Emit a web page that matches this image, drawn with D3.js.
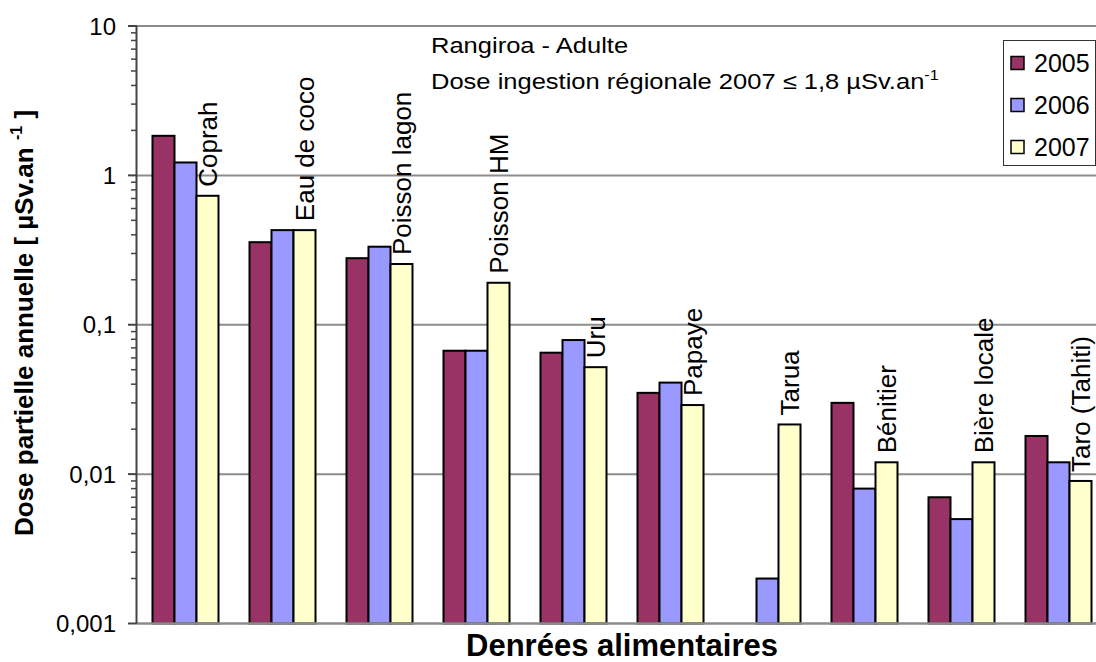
<!DOCTYPE html>
<html>
<head>
<meta charset="utf-8">
<script src="https://cdn.jsdelivr.net/npm/d3@7"></script>
<style>
  html, body { margin: 0; padding: 0; background: #fff; }
  svg { display: block; font-family: "Liberation Sans", Arial, sans-serif; }
</style>
</head>
<body>
<svg id="chart" width="1096" height="662"></svg>
<script>
// Food items (x categories)
const categories = ["Coprah", "Eau de coco", "Poisson lagon", "Poisson HM", "Uru",
                    "Papaye", "Tarua", "Bénitier", "Bière locale", "Taro (Tahiti)"];
const years = ["2005", "2006", "2007"];

// Partial annual dose, µSv per year (null = no measurement)
const dose2005 = [1.84, 0.357, 0.279, 0.067, 0.065, 0.035, null, 0.030, 0.007, 0.018];
const dose2006 = [1.22, 0.43, 0.333, 0.067, 0.079, 0.041, 0.002, 0.008, 0.005, 0.012];
const dose2007 = [0.73, 0.43, 0.255, 0.191, 0.052, 0.029, 0.0215, 0.012, 0.012, 0.009];

const seriesColors = ["#993366", "#9999FF", "#FFFFCC"];

const tickValues = [0.001, 0.01, 0.1, 1, 10];
const tickLabels = ["0,001", "0,01", "0,1", "1", "10"];

const series = [dose2005, dose2006, dose2007];

const svg = d3.select("#chart");
const plotLeft = 137, plotRight = 1107, plotTop = 26, plotBottom = 623.5;

const x = d3.scaleBand()
  .domain(categories)
  .range([plotLeft, plotRight])
  .paddingInner(31 / 97)
  .paddingOuter(31 / 97 / 2);

const xs = d3.scaleBand().domain(years).range([0, x.bandwidth()]);

const y = d3.scaleLog().domain([0.001, 10]).range([plotBottom, plotTop]);

// Horizontal gridlines at each decade
svg.append("g")
  .selectAll("line")
  .data(tickValues.slice(1))
  .join("line")
  .attr("x1", plotLeft).attr("x2", plotRight)
  .attr("y1", d => y(d)).attr("y2", d => y(d))
  .attr("stroke", "#8c8c8c")
  .attr("stroke-width", 2);

// Bars
const groups = svg.append("g")
  .selectAll("g")
  .data(categories)
  .join("g")
  .attr("transform", d => `translate(${x(d)},0)`);

groups.selectAll("rect")
  .data((c, i) => years.map((yr, k) => ({ yr, k, v: series[k][i] })).filter(d => d.v != null))
  .join("rect")
  .attr("x", d => xs(d.yr))
  .attr("width", xs.bandwidth())
  .attr("y", d => y(d.v))
  .attr("height", d => plotBottom - y(d.v))
  .attr("fill", d => seriesColors[d.k])
  .attr("stroke", "#000")
  .attr("stroke-width", 2);

// Category labels above the 2007 bars
svg.append("g")
  .selectAll("text")
  .data(categories)
  .join("text")
  .attr("transform", (c, i) => {
    const cx = x(c) + xs("2007") + xs.bandwidth() / 2 + 9.5;
    const cy = y(dose2007[i]) - 9;
    return `translate(${cx},${cy}) rotate(-90)`;
  })
  .attr("font-size", 26)
  .attr("fill", "#000")
  .text(d => d);

// X axis baseline
svg.append("line")
  .attr("x1", plotLeft).attr("x2", plotRight)
  .attr("y1", plotBottom).attr("y2", plotBottom)
  .attr("stroke", "#8c8c8c")
  .attr("stroke-width", 2.5);

// Y axis with major and minor ticks
const yAxis = svg.append("g");
yAxis.append("line")
  .attr("x1", plotLeft - 0.5).attr("x2", plotLeft - 0.5)
  .attr("y1", plotTop).attr("y2", plotBottom)
  .attr("stroke", "#444").attr("stroke-width", 2);

const minorTicks = y.ticks().filter(t => !tickValues.some(v => Math.abs(v - t) / v < 1e-9));
yAxis.selectAll("line.minor")
  .data(minorTicks)
  .join("line")
  .attr("class", "minor")
  .attr("x1", plotLeft - 6).attr("x2", plotLeft)
  .attr("y1", d => y(d)).attr("y2", d => y(d))
  .attr("stroke", "#444").attr("stroke-width", 1.5);

yAxis.selectAll("line.major")
  .data(tickValues)
  .join("line")
  .attr("class", "major")
  .attr("x1", plotLeft - 9).attr("x2", plotLeft)
  .attr("y1", d => y(d)).attr("y2", d => y(d))
  .attr("stroke", "#444").attr("stroke-width", 2);

yAxis.selectAll("text")
  .data(tickValues)
  .join("text")
  .attr("x", 116)
  .attr("y", d => y(d) + 8.5)
  .attr("text-anchor", "end")
  .attr("font-size", 24)
  .attr("fill", "#000")
  .text((d, i) => tickLabels[i]);

// Axis titles
svg.append("text")
  .attr("x", (plotLeft + plotRight) / 2)
  .attr("y", 656)
  .attr("text-anchor", "middle")
  .attr("font-size", 31)
  .attr("font-weight", "bold")
  .text("Denrées alimentaires");

const yTitle = svg.append("text")
  .attr("transform", "translate(33,323) rotate(-90)")
  .attr("text-anchor", "middle")
  .attr("font-size", 26)
  .attr("font-weight", "bold");
yTitle.append("tspan").text("Dose partielle annuelle [ µSv.an ");
yTitle.append("tspan").attr("font-size", 16).attr("dy", -11).text("-1");
yTitle.append("tspan").attr("dy", 11).text(" ]");

// Annotation
const note = svg.append("g").attr("transform", "translate(431,0) scale(1.16,1)");
note.append("text")
  .attr("x", 0).attr("y", 53)
  .attr("font-size", 22)
  .text("Rangiroa - Adulte");
const line2 = note.append("text")
  .attr("x", 0).attr("y", 89)
  .attr("font-size", 22);
line2.append("tspan").text("Dose ingestion régionale 2007 ≤ 1,8 µSv.an");
line2.append("tspan").attr("font-size", 14).attr("dy", -9).text("-1");

// Legend
const legend = svg.append("g");
legend.append("rect")
  .attr("x", 1003.5).attr("y", 40.5)
  .attr("width", 92).attr("height", 125)
  .attr("fill", "#fff")
  .attr("stroke", "#333").attr("stroke-width", 1);

const legendRows = legend.selectAll("g")
  .data(years)
  .join("g")
  .attr("transform", (d, i) => `translate(1011,${63 + i * 42})`);

legendRows.append("rect")
  .attr("x", 0).attr("y", -6.5)
  .attr("width", 13).attr("height", 13)
  .attr("fill", (d, i) => seriesColors[i])
  .attr("stroke", "#000").attr("stroke-width", 1.5);

legendRows.append("text")
  .attr("x", 23).attr("y", 8.5)
  .attr("font-size", 25)
  .text(d => d);
</script>
</body>
</html>
